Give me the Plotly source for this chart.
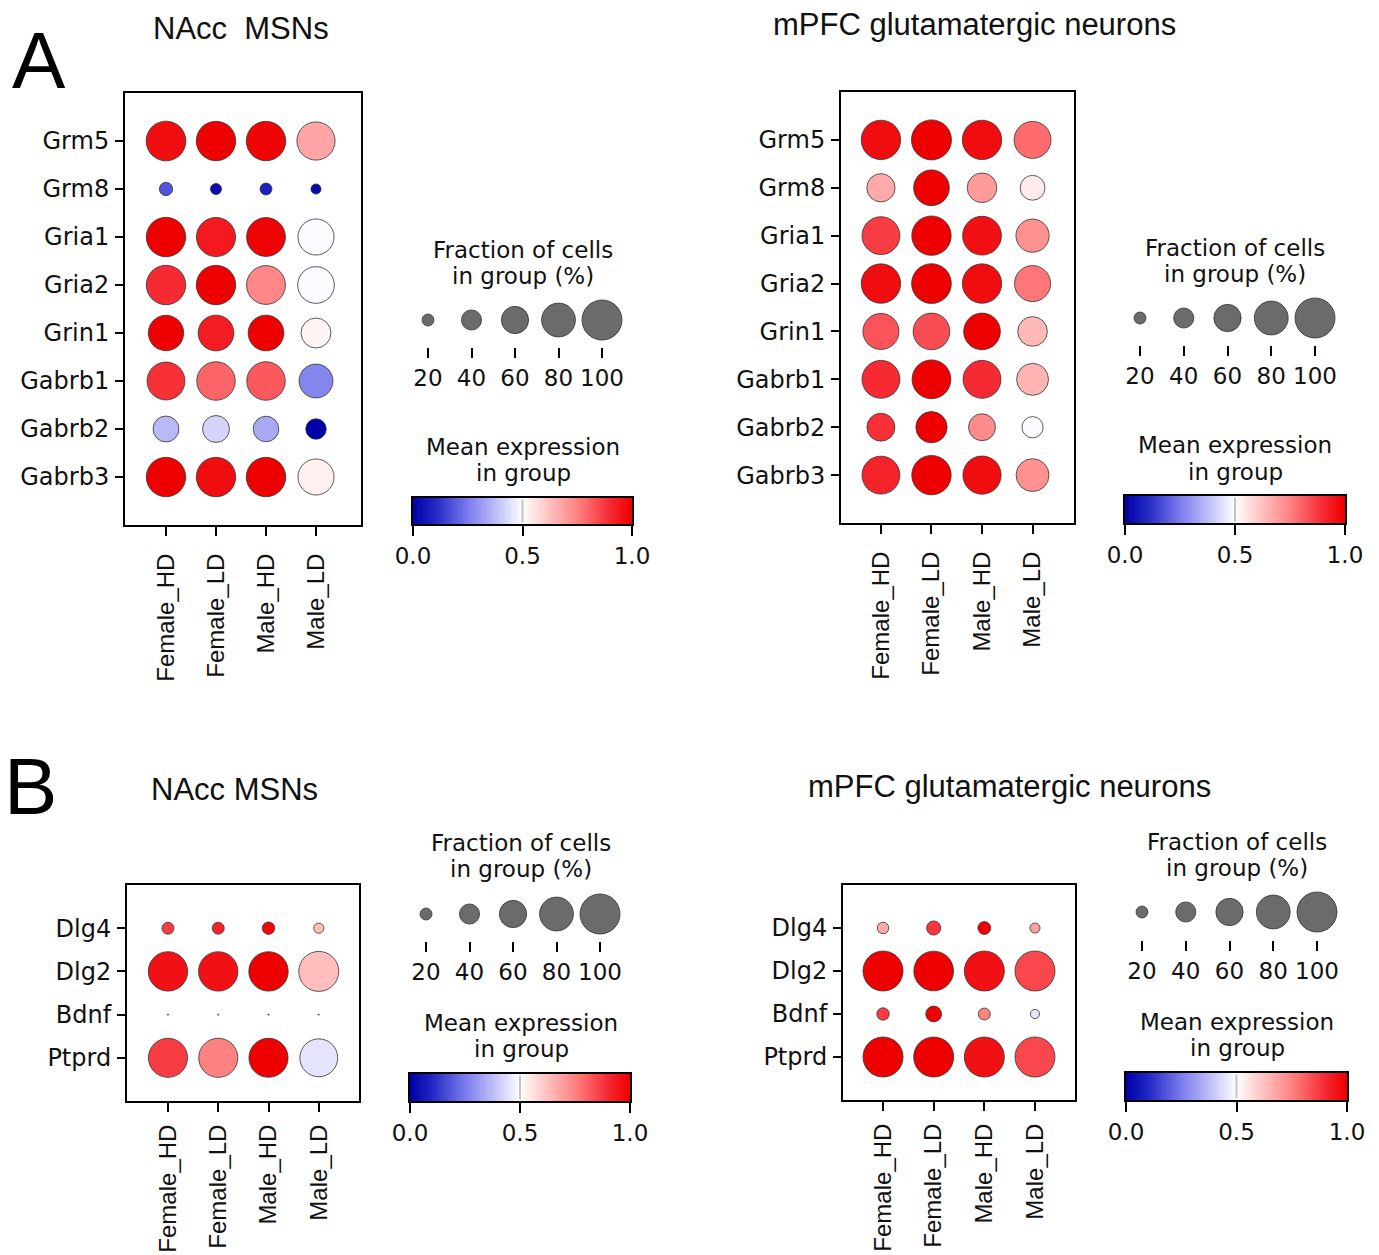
import numpy as np
import plotly.graph_objects as go

W, H = 1379, 1255

# ---------------- data ----------------
groups = ["Female_HD", "Female_LD", "Male_HD", "Male_LD"]
genes_a = ["Grm5", "Grm8", "Gria1", "Gria2", "Grin1", "Gabrb1", "Gabrb2", "Gabrb3"]
genes_b = ["Dlg4", "Dlg2", "Bdnf", "Ptprd"]

# fraction of cells expressing (%), rows = genes, cols = groups
nacc_a_frac = [
    [99, 98, 98, 94],
    [23, 18, 20, 16],
    [98, 97, 96, 87],
    [98, 98, 96, 89],
    [85, 86, 86, 68],
    [93, 95, 95, 80],
    [56, 59, 55, 41],
    [98, 98, 98, 87],
]
# scaled mean expression (0-1)
nacc_a_expr = [
    [0.97, 1.00, 0.99, 0.68],
    [0.18, 0.03, 0.08, 0.02],
    [1.00, 0.94, 0.99, 0.49],
    [0.90, 1.00, 0.74, 0.49],
    [1.00, 0.93, 1.00, 0.52],
    [0.89, 0.80, 0.82, 0.27],
    [0.37, 0.42, 0.34, 0.00],
    [1.00, 0.97, 1.00, 0.53],
]

mpfc_a_frac = [
    [98, 100, 98, 90],
    [63, 86, 67, 53],
    [93, 98, 96, 78],
    [98, 99, 98, 87],
    [87, 89, 89, 67],
    [93, 96, 93, 74],
    [62, 72, 59, 43],
    [93, 98, 94, 77],
]
mpfc_a_expr = [
    [0.97, 1.00, 0.97, 0.79],
    [0.67, 1.00, 0.70, 0.54],
    [0.87, 1.00, 0.96, 0.72],
    [0.97, 1.00, 0.97, 0.77],
    [0.83, 0.84, 1.00, 0.64],
    [0.90, 1.00, 0.90, 0.65],
    [0.89, 1.00, 0.73, 0.49],
    [0.92, 1.00, 0.97, 0.72],
]

nacc_b_frac = [
    [20, 20, 21, 16],
    [98, 98, 98, 100],
    [1, 1, 1, 1],
    [97, 97, 97, 93],
]
nacc_b_expr = [
    [0.87, 0.92, 0.98, 0.63],
    [0.96, 0.96, 1.00, 0.63],
    [0.55, 0.55, 0.55, 0.55],
    [0.87, 0.75, 1.00, 0.45],
]

mpfc_b_frac = [
    [19, 25, 22, 16],
    [100, 99, 100, 100],
    [21, 29, 20, 14],
    [100, 100, 100, 100],
]
mpfc_b_expr = [
    [0.67, 0.88, 1.00, 0.69],
    [1.00, 1.00, 0.96, 0.85],
    [0.87, 1.00, 0.75, 0.45],
    [1.00, 1.00, 0.96, 0.85],
]

legend_fracs = [20, 40, 60, 80, 100]
cbar_ticks = [0.0, 0.5, 1.0]
cbar_ticktext = ["0.0", "0.5", "1.0"]

# ---------------- styling ----------------
EXPR_SCALE = [
    [0.00, "#0000a8"],
    [0.10, "#2228c4"],
    [0.25, "#7b7bec"],
    [0.40, "#c9c9fa"],
    [0.50, "#ffffff"],
    [0.60, "#ffcccc"],
    [0.75, "#ff8282"],
    [0.90, "#f62a33"],
    [1.00, "#ee0000"],
]
MAX_DOT = 40.0  # px diameter of a 100 % dot
TICK_FONT = "DejaVu Sans"
TITLE_FONT = "Liberation Sans, Arial, sans-serif"
INK = "#111111"


def fx(p):
    return p / W


def fy(p):
    return 1 - p / H


def dot_size(frac):
    return MAX_DOT * (np.asarray(frac, dtype=float) / 100.0) ** 0.75


def ax_names(k):
    s = "" if k == 1 else str(k)
    return "x" + s, "y" + s, "xaxis" + s, "yaxis" + s


panels = [
    dict(frac=nacc_a_frac, expr=nacc_a_expr, genes=genes_a,
         box=(125, 93, 361, 525), xr=(-0.82, 3.9), xgap=8,
         leg=dict(x20=428, x100=602, cy=320, base=347),
         cbar=(413, 498, 632, 524),
         texts=(523, 250, 276, 447, 473)),
    dict(frac=mpfc_a_frac, expr=mpfc_a_expr, genes=genes_a,
         box=(841, 92, 1074, 523), xr=(-0.79, 3.82), xgap=8,
         leg=dict(x20=1140, x100=1315, cy=318, base=345),
         cbar=(1125, 496, 1345, 523),
         texts=(1235, 248, 274, 445, 472)),
    dict(frac=nacc_b_frac, expr=nacc_b_expr, genes=genes_b,
         box=(127, 885, 359, 1101), xr=(-0.815, 3.8), xgap=3,
         leg=dict(x20=426, x100=600, cy=914, base=941),
         cbar=(410, 1074, 630, 1101),
         texts=(521, 843, 869, 1023, 1049)),
    dict(frac=mpfc_b_frac, expr=mpfc_b_expr, genes=genes_b,
         box=(843, 885, 1075, 1100), xr=(-0.79, 3.79), xgap=3,
         leg=dict(x20=1142, x100=1317, cy=912, base=940),
         cbar=(1126, 1073, 1347, 1100),
         texts=(1237, 842, 868, 1022, 1048)),
]

fig = go.Figure()
layout_axes = {}
annotations = []
shapes = []

k = 0
for pn in panels:
    genes = pn["genes"]
    frac = np.array(pn["frac"], dtype=float)
    expr = np.array(pn["expr"], dtype=float)

    # ---- main dot plot ----
    k += 1
    xr, yr, xk, yk = ax_names(k)
    xs, ys = [], []
    for g in genes:
        for grp in groups:
            xs.append(grp)
            ys.append(g)
    fig.add_trace(go.Scatter(
        x=xs, y=ys, mode="markers", xaxis=xr, yaxis=yr,
        hoverinfo="skip", showlegend=False,
        marker=dict(
            size=dot_size(frac.ravel()), sizemode="diameter", opacity=1,
            color=expr.ravel(), colorscale=EXPR_SCALE, cmin=0, cmax=1,
            showscale=False, line=dict(color="#333333", width=0.8),
        ),
    ))
    L, T, R, B = pn["box"]
    layout_axes[xk] = dict(
        domain=[fx(L), fx(R)], anchor=yr, type="category",
        categoryorder="array", categoryarray=groups, automargin=False,
        range=list(pn["xr"]), showline=True, mirror=True,
        linecolor="black", linewidth=2, ticks="outside", ticklen=9,
        tickwidth=2, tickcolor="black", tickangle=-90,
        ticklabelstandoff=pn["xgap"],
        tickfont=dict(family=TITLE_FONT, size=24, color=INK),
        showgrid=False, zeroline=False, fixedrange=True,
    )
    layout_axes[yk] = dict(
        domain=[fy(B), fy(T)], anchor=xr, type="category",
        categoryorder="array", categoryarray=genes, automargin=False,
        range=[len(genes), -1], showline=True, mirror=True,
        linecolor="black", linewidth=2, ticks="outside", ticklen=8,
        tickwidth=2, tickcolor="black", ticklabelstandoff=1,
        tickfont=dict(family=TICK_FONT, size=24, color=INK),
        showgrid=False, zeroline=False, fixedrange=True,
    )

    # ---- dot-size legend ----
    k += 1
    xr, yr, xk, yk = ax_names(k)
    lg = pn["leg"]
    per_px = 80.0 / (lg["x100"] - lg["x20"])
    lpx, rpx = lg["x20"] - 30, lg["x100"] + 30
    top = 2 * lg["cy"] - lg["base"]
    fig.add_trace(go.Scatter(
        x=legend_fracs, y=[0.5] * len(legend_fracs), mode="markers",
        xaxis=xr, yaxis=yr, hoverinfo="skip", showlegend=False,
        marker=dict(size=dot_size(legend_fracs), sizemode="diameter",
                    opacity=1, color="#6b6b6b",
                    line=dict(color="#333333", width=0.8)),
    ))
    layout_axes[xk] = dict(
        domain=[fx(lpx), fx(rpx)], anchor=yr, automargin=False,
        range=[20 + (lpx - lg["x20"]) * per_px, 20 + (rpx - lg["x20"]) * per_px],
        tickvals=legend_fracs, ticktext=[str(v) for v in legend_fracs],
        ticks="outside", ticklen=10, tickwidth=2, tickcolor="black",
        ticklabelstandoff=0,
        tickfont=dict(family=TICK_FONT, size=23, color=INK),
        showline=False, showgrid=False, zeroline=False, fixedrange=True,
    )
    layout_axes[yk] = dict(
        domain=[fy(lg["base"]), fy(top)], anchor=xr, range=[0, 1],
        visible=False, fixedrange=True, automargin=False,
    )

    # ---- colour bar ----
    k += 1
    xr, yr, xk, yk = ax_names(k)
    cx0, cy0, cx1, cy1 = pn["cbar"]
    n = 256
    ramp = np.linspace(0, 1, n)
    centers = (np.arange(n) + 0.5) / n
    fig.add_trace(go.Heatmap(
        z=[ramp], x=centers, y=[0], colorscale=EXPR_SCALE, zmin=0, zmax=1,
        showscale=False, hoverinfo="skip", xaxis=xr, yaxis=yr,
    ))
    layout_axes[xk] = dict(
        domain=[fx(cx0), fx(cx1)], anchor=yr, range=[0, 1], automargin=False,
        tickvals=cbar_ticks, ticktext=cbar_ticktext,
        ticks="outside", ticklen=10, tickwidth=2, tickcolor="black",
        ticklabelstandoff=0,
        tickfont=dict(family=TICK_FONT, size=23, color=INK),
        showline=True, mirror=True, linecolor="black", linewidth=2,
        showgrid=False, zeroline=False, fixedrange=True,
    )
    layout_axes[yk] = dict(
        domain=[fy(cy1), fy(cy0)], anchor=xr, range=[-0.5, 0.5],
        showline=True, mirror=True, linecolor="black", linewidth=2,
        showticklabels=False, ticks="", showgrid=False, zeroline=False,
        fixedrange=True, automargin=False,
    )
    shapes.append(dict(
        type="line", xref=xr, yref="paper", x0=0.5, x1=0.5,
        y0=fy(cy1 - 1.5), y1=fy(cy0 + 1.5), layer="above",
        line=dict(color="#c4c4c4", width=2),
    ))

    # ---- legend headings ----
    cx, t1, t2, t3, t4 = pn["texts"]
    for txt, yy in (("Fraction of cells", t1), ("in group (%)", t2),
                    ("Mean expression", t3), ("in group", t4)):
        annotations.append(dict(
            text=txt, x=fx(cx), y=fy(yy), xref="paper", yref="paper",
            xanchor="center", yanchor="middle", showarrow=False,
            font=dict(family=TICK_FONT, size=23, color=INK),
        ))

# ---- panel titles and letters ----
for txt, x, y in (("NAcc\u00a0 MSNs", 241, 28),
                  ("mPFC glutamatergic neurons", 974, 25),
                  ("NAcc MSNs", 235, 789),
                  ("mPFC glutamatergic neurons", 1009, 786)):
    annotations.append(dict(
        text=txt, x=fx(x), y=fy(y), xref="paper", yref="paper",
        xanchor="center", yanchor="middle", showarrow=False,
        font=dict(family=TITLE_FONT, size=31, color=INK),
    ))
for txt, x, y in (("A", 39, 61), ("B", 30, 786)):
    annotations.append(dict(
        text=txt, x=fx(x), y=fy(y), xref="paper", yref="paper",
        xanchor="center", yanchor="middle", showarrow=False,
        font=dict(family=TITLE_FONT, size=80, color="black"),
    ))

fig.update_layout(
    template="none",
    width=W, height=H, margin=dict(l=0, r=0, t=0, b=0, autoexpand=False),
    paper_bgcolor="white", plot_bgcolor="white",
    showlegend=False, annotations=annotations, shapes=shapes,
    **layout_axes,
)

fig.write_html("out.html", config={"displayModeBar": False})
